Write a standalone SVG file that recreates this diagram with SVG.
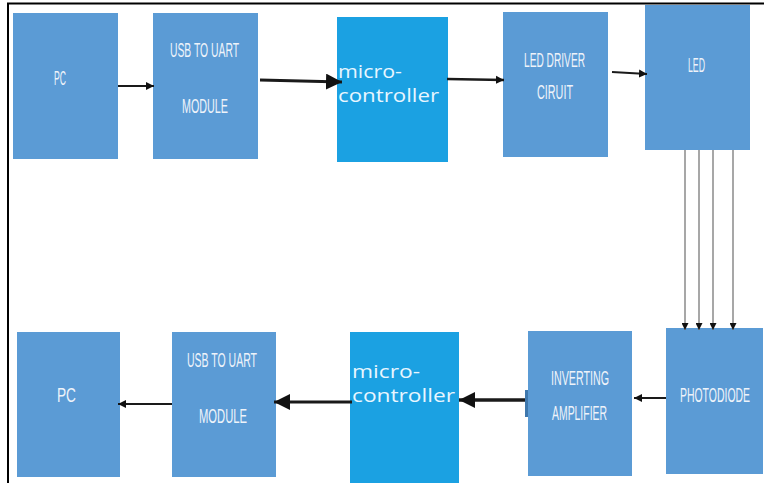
<svg xmlns="http://www.w3.org/2000/svg" width="764" height="483" viewBox="0 0 764 483">
<defs>
<style>
.blk{fill:#5b9bd5}
.mcu{fill:#1ba1e2}
.lbl{font-family:"Liberation Sans",Arial,sans-serif;font-size:21px;fill:#eef3fa}
.mtx{font-family:"Open Sans","DejaVu Sans",sans-serif;font-size:17.5px;fill:#e8f6ff}
.ar{stroke:#1a1a1a;fill:none}
.vr{stroke:#8a8a8a;stroke-width:1.5;fill:none}
</style>
<marker id="sm" viewBox="0 0 10 10" refX="10" refY="5" markerWidth="8" markerHeight="10" markerUnits="userSpaceOnUse" orient="auto"><path d="M0,0 L10,5 L0,10 z" fill="#111"/></marker>
<marker id="bg" viewBox="0 0 10 10" refX="10" refY="5" markerWidth="16" markerHeight="16" markerUnits="userSpaceOnUse" orient="auto"><path d="M0,0 L10,5 L0,10 z" fill="#111"/></marker>
<marker id="vt" viewBox="0 0 10 10" refX="10" refY="5" markerWidth="8" markerHeight="7" markerUnits="userSpaceOnUse" orient="auto"><path d="M0,0 L10,5 L0,10 z" fill="#111"/></marker>
</defs>
<rect width="764" height="483" fill="#ffffff"/>
<path d="M8,483 V3.5 H764" stroke="#000" stroke-width="2" fill="none"/>

<g id="pc-top"><rect class="blk" x="13" y="13" width="105" height="146"/><text class="lbl" x="54" y="85" textLength="12" lengthAdjust="spacingAndGlyphs">PC</text></g>
<g id="usb-top"><rect class="blk" x="153" y="13" width="105" height="146"/><text class="lbl" x="170" y="57" textLength="69" lengthAdjust="spacingAndGlyphs">USB TO UART</text><text class="lbl" x="182" y="113" textLength="46" lengthAdjust="spacingAndGlyphs">MODULE</text></g>
<g id="mcu-top"><rect class="mcu" x="337" y="17" width="111" height="145"/><text class="mtx" x="338" y="78" textLength="64" lengthAdjust="spacingAndGlyphs">micro-</text><text class="mtx" x="338" y="102" textLength="101" lengthAdjust="spacingAndGlyphs">controller</text></g>
<g id="driver"><rect class="blk" x="503" y="12" width="105" height="145"/><text class="lbl" x="524" y="67" textLength="61" lengthAdjust="spacingAndGlyphs">LED DRIVER</text><text class="lbl" x="537" y="99" textLength="36" lengthAdjust="spacingAndGlyphs">CIRUIT</text></g>
<g id="led"><rect class="blk" x="645" y="5" width="105" height="145"/><text class="lbl" x="688" y="72" textLength="17" lengthAdjust="spacingAndGlyphs">LED</text></g>

<g id="pc-bot"><rect class="blk" x="17" y="332" width="103" height="145"/><text class="lbl" x="57" y="402" textLength="19" lengthAdjust="spacingAndGlyphs">PC</text></g>
<g id="usb-bot"><rect class="blk" x="172" y="332" width="104" height="145"/><text class="lbl" x="187" y="367" textLength="70" lengthAdjust="spacingAndGlyphs">USB TO UART</text><text class="lbl" x="199" y="423" textLength="48" lengthAdjust="spacingAndGlyphs">MODULE</text></g>
<g id="mcu-bot"><rect class="mcu" x="350" y="332" width="109" height="151"/><text class="mtx" x="352" y="378" textLength="68" lengthAdjust="spacingAndGlyphs">micro-</text><text class="mtx" x="352" y="402" textLength="103" lengthAdjust="spacingAndGlyphs">controller</text></g>
<g id="amp"><rect class="blk" x="528" y="331" width="104" height="145"/><rect x="525" y="390" width="3" height="27" fill="#3f78ad"/><text class="lbl" x="551" y="385" textLength="58" lengthAdjust="spacingAndGlyphs">INVERTING</text><text class="lbl" x="552" y="420" textLength="55" lengthAdjust="spacingAndGlyphs">AMPLIFIER</text></g>
<g id="photo"><rect class="blk" x="666" y="328" width="97" height="146"/><text class="lbl" x="680" y="402" textLength="70" lengthAdjust="spacingAndGlyphs">PHOTODIODE</text></g>

<g id="connectors">
<line class="ar" x1="118" y1="86" x2="154" y2="86" stroke-width="2" marker-end="url(#sm)"/>
<line class="ar" x1="260" y1="80" x2="342" y2="82" stroke-width="3" marker-end="url(#bg)"/>
<line class="ar" x1="447" y1="79" x2="504" y2="80" stroke-width="2.5" marker-end="url(#sm)"/>
<line class="ar" x1="612" y1="72" x2="647" y2="74" stroke-width="2" marker-end="url(#sm)"/>
<line class="vr" x1="685" y1="150" x2="685" y2="330" marker-end="url(#vt)"/>
<line class="vr" x1="699" y1="150" x2="699" y2="330" marker-end="url(#vt)"/>
<line class="vr" x1="713" y1="150" x2="713" y2="330" marker-end="url(#vt)"/>
<line class="vr" x1="733" y1="150" x2="733" y2="330" marker-end="url(#vt)"/>
<line class="ar" x1="666" y1="398" x2="634" y2="398" stroke-width="2" marker-end="url(#sm)"/>
<line class="ar" x1="525" y1="400" x2="459" y2="400" stroke-width="3.5" marker-end="url(#bg)"/>
<line class="ar" x1="352" y1="402" x2="274" y2="402" stroke-width="3" marker-end="url(#bg)"/>
<line class="ar" x1="172" y1="404" x2="118" y2="404" stroke-width="2" marker-end="url(#sm)"/>
</g>
</svg>
